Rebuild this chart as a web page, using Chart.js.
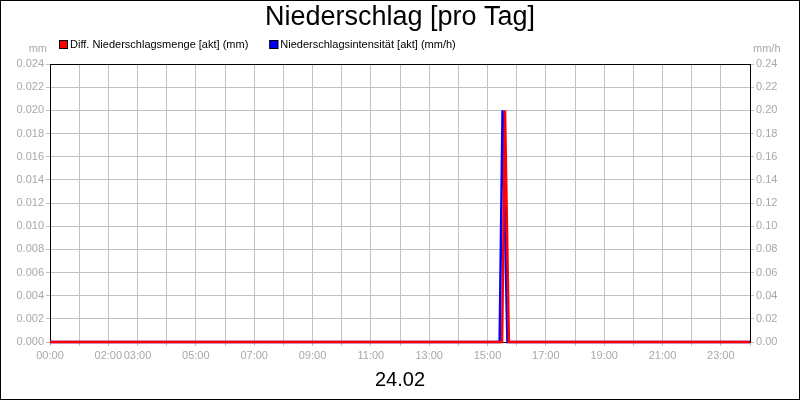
<!DOCTYPE html>
<html><head><meta charset="utf-8">
<script src="https://cdn.jsdelivr.net/npm/chart.js@4/dist/chart.umd.min.js"></script>
<style>html,body{margin:0;padding:0;background:#fff}#wrap{width:800px;height:400px}</style>
</head><body><div id="wrap"><canvas id="c" width="800" height="400"></canvas></div>
<script>
const titleText = "Niederschlag [pro Tag]";
const dateLabel = "24.02";
const seriesNames = ["Diff. Niederschlagsmenge [akt] (mm)", "Niederschlagsintensität [akt] (mm/h)"];
const seriesColors = ["#ff0000", "#0000ff"];
const unitLeft = "mm";
const unitRight = "mm/h";
// x in minutes since 00:00
const mengeTimes = [0, 930, 936, 944, 1440];
const mengeValues = [0, 0, 0.020, 0, 0];
const intensTimes = [0, 925, 931, 941, 1440];
const intensValues = [0, 0, 0.20, 0, 0];
const hourLabels = ["00:00","","02:00","03:00","","05:00","","07:00","","09:00","","11:00","","13:00","","15:00","","17:00","","19:00","","21:00","","23:00",""];

const FONT = "'Liberation Sans', Arial, sans-serif";
const GRAY = "#a8a8a8";

const frame = {
  id: 'frame',
  beforeDatasetsDraw(chart) {
    const ctx = chart.ctx, a = chart.chartArea;
    ctx.save();
    ctx.strokeStyle = '#000'; ctx.lineWidth = 1;
    ctx.strokeRect(Math.round(a.left) + 0.5, Math.round(a.top) + 0.5, Math.round(a.right - a.left), Math.round(a.bottom - a.top));
    ctx.restore();
  },
  afterDraw(chart) {
    const ctx = chart.ctx;
    ctx.save();
    ctx.strokeStyle = '#000'; ctx.lineWidth = 1;
    ctx.strokeRect(0.5, 0.5, 799, 399);
    ctx.fillStyle = '#000';
    ctx.textAlign = 'center'; ctx.textBaseline = 'middle';
    ctx.font = "27px " + FONT;
    ctx.fillText(titleText, 400, 18);
    ctx.font = "20px " + FONT;
    ctx.fillText(dateLabel, 400, 380);
    ctx.font = "11px " + FONT;
    ctx.textAlign = 'left';
    let lx = 59;
    seriesNames.forEach((n, i) => {
      ctx.fillStyle = seriesColors[i];
      ctx.fillRect(lx, 40, 9, 9);
      ctx.strokeStyle = '#000';
      ctx.strokeRect(lx + 0.5, 40.5, 8, 8);
      ctx.fillStyle = '#000';
      ctx.fillText(n, lx + 11, 45);
      lx += 11 + ctx.measureText(n).width + 21;
    });
    ctx.fillStyle = GRAY;
    ctx.textAlign = 'right';
    ctx.fillText(unitLeft, 47, 49);
    ctx.textAlign = 'left';
    ctx.fillText(unitRight, 753, 49);
    ctx.restore();
  }
};

new Chart(document.getElementById('c'), {
  type: 'line',
  data: {
    datasets: [
      { label: seriesNames[0], data: mengeTimes.map((t, i) => ({x: t, y: mengeValues[i]})), yAxisID: 'y',
        borderColor: seriesColors[0], borderWidth: 2.5, pointRadius: 0, tension: 0, fill: false, clip: 3 },
      { label: seriesNames[1], data: intensTimes.map((t, i) => ({x: t, y: intensValues[i]})), yAxisID: 'y1',
        borderColor: seriesColors[1], borderWidth: 2.5, pointRadius: 0, tension: 0, fill: false, clip: 3 }
    ]
  },
  options: {
    responsive: false, animation: false, devicePixelRatio: 1,
    layout: { padding: { top: 64, left: 0, right: 0, bottom: 0 } },
    plugins: { legend: { display: false }, title: { display: false }, tooltip: { enabled: false } },
    scales: {
      x: {
        type: 'linear', min: 0, max: 1440,
        afterBuildTicks(s) { s.ticks = hourLabels.map((_, i) => ({ value: i * 60 })); },
        afterFit(s) { s.height = 58; },
        ticks: { autoSkip: false, maxRotation: 0, color: GRAY, font: { family: FONT, size: 11 }, padding: 3,
          callback(v) { const i = Math.round(v / 60); return hourLabels[i] || ''; } },
        grid: { color: '#c0c0c0', tickLength: 4, tickColor: '#c0c0c0' },
        border: { color: '#000' }
      },
      y: {
        position: 'left', min: 0, max: 0.024,
        afterFit(s) { s.width = 50; },
        ticks: { stepSize: 0.002, color: GRAY, font: { family: FONT, size: 11 }, padding: 2,
          callback(v) { return Number(v).toFixed(3); } },
        grid: { color: '#c0c0c0', tickLength: 4, tickColor: '#c0c0c0' },
        border: { color: '#000' }
      },
      y1: {
        position: 'right', min: 0, max: 0.24,
        afterFit(s) { s.width = 50; },
        ticks: { stepSize: 0.02, color: GRAY, font: { family: FONT, size: 11 }, padding: 2,
          callback(v) { return Number(v).toFixed(2); } },
        grid: { drawOnChartArea: false, tickLength: 4, tickColor: '#c0c0c0' },
        border: { color: '#000' }
      }
    }
  },
  plugins: [frame]
});
</script>
</body></html>
